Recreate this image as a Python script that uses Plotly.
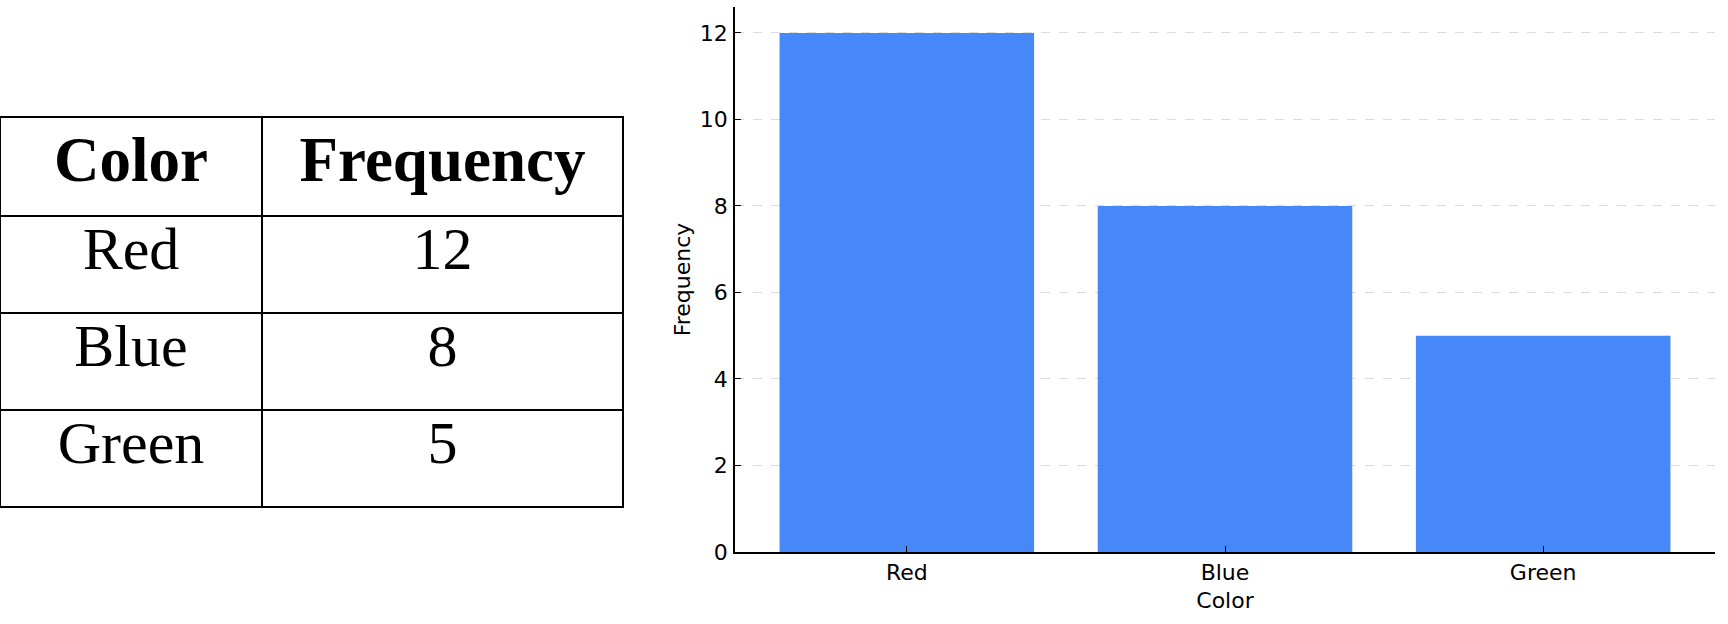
import plotly.graph_objects as go

colors = ["Red", "Blue", "Green"]
frequency = [12, 8, 5]
table_header = ["Color", "Frequency"]
y_ticks = [0, 2, 4, 6, 8, 10, 12]

W, H = 1728, 624

fig = go.Figure()

fig.add_trace(go.Table(
    domain=dict(x=[0.0, 623 / W], y=[1 - 527 / H, 1 - 117 / H]),
    columnwidth=[262, 361],
    header=dict(
        values=["<b>%s</b>" % h for h in table_header],
        align="center",
        height=99,
        line=dict(color="black", width=2),
        fill=dict(color="white"),
        font=dict(family="Liberation Serif", size=63, color="black"),
    ),
    cells=dict(
        values=[colors, [str(v) for v in frequency]],
        align="center",
        height=97,
        line=dict(color="black", width=2),
        fill=dict(color="white"),
        font=dict(family="Liberation Serif", size=60, color="black"),
    ),
))

fig.add_trace(go.Bar(
    x=colors,
    y=frequency,
    width=0.8,
    marker=dict(color="#4788f8", line=dict(width=0)),
    xaxis="x",
    yaxis="y",
    showlegend=False,
))

axis_font = dict(family="DejaVu Sans", size=22, color="black")

fig.update_layout(
    width=W,
    height=H,
    margin=dict(l=0, r=0, t=0, b=0),
    paper_bgcolor="white",
    plot_bgcolor="white",
    xaxis=dict(
        domain=[735 / W, 1715 / W],
        range=[-0.54, 2.54],
        automargin=False,
        showline=True,
        linecolor="black",
        linewidth=1.5,
        ticks="inside",
        ticklen=6,
        tickwidth=1,
        tickcolor="black",
        tickfont=axis_font,
        showgrid=False,
        zeroline=False,
        title=dict(text="Color", font=axis_font, standoff=8),
        anchor="y",
    ),
    yaxis=dict(
        domain=[1 - 552 / H, 1 - 7 / H],
        range=[0, 12.6],
        automargin=False,
        tickvals=y_ticks,
        showline=True,
        linecolor="black",
        linewidth=1.5,
        ticks="inside",
        ticklen=6,
        tickwidth=1,
        tickcolor="black",
        tickfont=axis_font,
        ticklabelstandoff=1,
        showgrid=True,
        gridcolor="#dcdcdc",
        griddash="dash",
        gridwidth=1,
        zeroline=False,
        title=dict(text="Frequency", font=axis_font, standoff=3),
        anchor="x",
    ),
)

fig.write_html(
    "out.html",
    config={"displayModeBar": False},
    post_script="document.body.style.margin='0px';",
)
